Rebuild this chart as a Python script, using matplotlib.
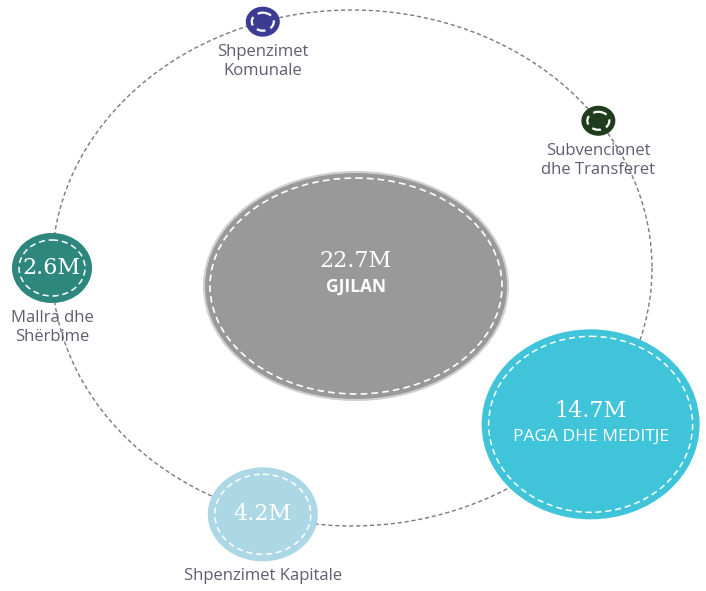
import matplotlib.pyplot as plt
from matplotlib.patches import Ellipse
import numpy as np

# data
total_label = 'GJILAN'
total_value = 22.7
categories = ['Shpenzimet\nKomunale', 'Subvencionet\ndhe Transferet',
              'PAGA DHE MEDITJE', 'Shpenzimet Kapitale', 'Mallra dhe\nShërbime']
values = [None, None, 14.7, 4.2, 2.6]   # first two not shown on the chart

# layout (pixel space of the picture)
colors = ['#3b3b94', '#1f3d1d', '#40c4da', '#acd7e5', '#2e877d']
angles = [-107.3, -34.8, 37.3, 107.3, 180]
radii = [(17, 15), (17, 15), (109, 95), (55, 47), (40, 35)]
label_inside = [False, False, True, False, False]
orbit_c = (352, 268)
orbit_a, orbit_b = 300, 258
center_c = (356, 286)
center_r = (152, 114)

W, H = 706, 591
fig = plt.figure(figsize=(W / 100, H / 100), dpi=100)
ax = fig.add_axes([0, 0, 1, 1])
ax.set_xlim(0, W)
ax.set_ylim(H, 0)
ax.axis('off')

serif = 'DejaVu Serif'
sans = 'Open Sans'


def bubble(cx, cy, rx, ry, color, inset=7, lw=1.1, edge=None):
    ax.add_patch(Ellipse((cx, cy), 2 * rx, 2 * ry, facecolor=color,
                         edgecolor=edge if edge else 'none', lw=1.5, zorder=3))
    ax.add_patch(Ellipse((cx, cy), 2 * (rx - inset), 2 * (ry - inset),
                         facecolor='none', edgecolor='white', lw=lw,
                         linestyle=(0, (4, 2.5)), zorder=4))


# orbit
t = np.linspace(0, 2 * np.pi, 400)
ax.plot(orbit_c[0] + orbit_a * np.cos(t), orbit_c[1] + orbit_b * np.sin(t),
        color='#7a7a7a', lw=1, linestyle=(0, (3, 2)), zorder=1)

# centre bubble
bubble(*center_c, *center_r, '#999999', inset=6, lw=1.2, edge='#d0d0d0')
ax.text(center_c[0], center_c[1] - 25, f'{total_value}M', color='white',
        fontsize=16, family=serif, ha='center', va='center', zorder=5)
ax.text(center_c[0], center_c[1] + 1, total_label, color='white',
        fontsize=12.5, family=sans, weight='bold', ha='center', va='center', zorder=5)

for name, val, col, ang, (rx, ry), inside in zip(categories, values, colors,
                                                  angles, radii, label_inside):
    a = np.radians(ang)
    cx = orbit_c[0] + orbit_a * np.cos(a)
    cy = orbit_c[1] + orbit_b * np.sin(a)
    small = rx < 25
    bubble(cx, cy, rx, ry, col, inset=6 if small else 7, lw=1.6 if small else 1.1)
    if inside:
        ax.text(cx, cy - 13, f'{val}M', color='white', fontsize=16, family=serif,
                ha='center', va='center', zorder=5)
        ax.text(cx, cy + 12, name, color='white', fontsize=12.5, family=sans,
                ha='center', va='center', zorder=5)
    else:
        if val is not None:
            ax.text(cx, cy, f'{val}M', color='white', fontsize=16, family=serif,
                    ha='center', va='center', zorder=5)
        ax.text(cx, cy + ry + 7, name, color='#5e5e70', fontsize=12, family=sans,
                ha='center', va='top', linespacing=1.25, zorder=5)

fig.savefig('out.png', dpi=100)
